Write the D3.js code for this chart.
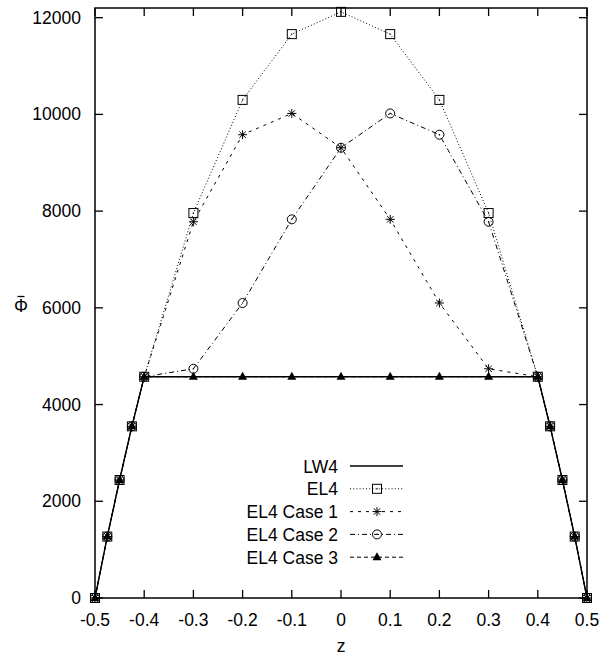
<!DOCTYPE html>
<html><head><meta charset="utf-8">
<script src="https://cdn.jsdelivr.net/npm/d3@7"></script>
<style>body{margin:0;background:#fff}svg{display:block}text{font-family:"Liberation Sans",Arial,sans-serif;fill:#000}</style>
</head><body>
<svg id="chart" width="604" height="661"></svg>
<script>
const zValues = [-0.5,-0.475,-0.45,-0.425,-0.4,-0.3,-0.2,-0.1,0,0.1,0.2,0.3,0.4,0.425,0.45,0.475,0.5];
const lw4 = [0,1270,2440,3550,4575,4575,4575,4575,4575,4575,4575,4575,4575,3550,2440,1270,0];
const el4 = [0,1270,2440,3550,4575,7960,10300,11660,12120,11660,10300,7960,4575,3550,2440,1270,0];
const el4Case1 = [0,1270,2440,3550,4575,7780,9580,10020,9310,7830,6100,4740,4575,3550,2440,1270,0];
const el4Case2 = [0,1270,2440,3550,4575,4740,6100,7830,9310,10020,9580,7780,4575,3550,2440,1270,0];
const el4Case3 = [0,1270,2440,3550,4575,4575,4575,4575,4575,4575,4575,4575,4575,3550,2440,1270,0];
const seriesNames = ["LW4","EL4","EL4 Case 1","EL4 Case 2","EL4 Case 3"];
const xTicks = [-0.5,-0.4,-0.3,-0.2,-0.1,0,0.1,0.2,0.3,0.4,0.5];
const yTicks = [0,2000,4000,6000,8000,10000,12000];

const svg = d3.select("#chart");
const L = 95, R = 587, T = 8, B = 598;
const x = d3.scaleLinear().domain([-0.5,0.5]).range([L,R]);
const y = d3.scaleLinear().domain([0,12200]).range([B,T]);
const FS = 17.5;

const series = [
  {name:seriesNames[0], vals:lw4, dash:null, width:1.4, marker:null},
  {name:seriesNames[1], vals:el4, dash:"1,2.2", width:1, marker:"square"},
  {name:seriesNames[2], vals:el4Case1, dash:"3,5", width:1, marker:"star"},
  {name:seriesNames[3], vals:el4Case2, dash:"5,3,1,3", width:1, marker:"circle"},
  {name:seriesNames[4], vals:el4Case3, dash:"4,3", width:1, marker:"triangle"}
];

function drawMarker(g, type, cx, cy) {
  if (type === "square") {
    g.append("rect").attr("x",cx-4.5).attr("y",cy-4.5).attr("width",9).attr("height",9)
      .attr("fill","none").attr("stroke","#000").attr("stroke-width",1);
    g.append("rect").attr("x",cx-0.6).attr("y",cy-0.6).attr("width",1.2).attr("height",1.2).attr("fill","#000");
  } else if (type === "star") {
    const s = 4.5, d = 3.2;
    const p = d3.path();
    p.moveTo(cx-s,cy); p.lineTo(cx+s,cy);
    p.moveTo(cx,cy-s); p.lineTo(cx,cy+s);
    p.moveTo(cx-d,cy-d); p.lineTo(cx+d,cy+d);
    p.moveTo(cx-d,cy+d); p.lineTo(cx+d,cy-d);
    g.append("path").attr("d",p.toString()).attr("stroke","#000").attr("stroke-width",1).attr("fill","none");
  } else if (type === "circle") {
    g.append("circle").attr("cx",cx).attr("cy",cy).attr("r",4.5).attr("fill","none").attr("stroke","#000").attr("stroke-width",1);
    g.append("rect").attr("x",cx-0.6).attr("y",cy-0.6).attr("width",1.2).attr("height",1.2).attr("fill","#000");
  } else if (type === "triangle") {
    g.append("path").attr("d",`M${cx},${cy-5}L${cx+4.5},${cy+3}L${cx-4.5},${cy+3}Z`).attr("fill","#000");
  }
}

// frame
svg.append("rect").attr("x",L).attr("y",T).attr("width",R-L).attr("height",B-T)
  .attr("fill","none").attr("stroke","#000").attr("stroke-width",1.5);

// ticks (inward, mirrored)
const tk = 8;
xTicks.forEach(v => {
  svg.append("line").attr("x1",x(v)).attr("x2",x(v)).attr("y1",B).attr("y2",B-tk).attr("stroke","#000").attr("stroke-width",1.3);
  svg.append("line").attr("x1",x(v)).attr("x2",x(v)).attr("y1",T).attr("y2",T+tk).attr("stroke","#000").attr("stroke-width",1.3);
  svg.append("text").attr("x",x(v)).attr("y",B+28).attr("text-anchor","middle").attr("font-size",FS).text(String(v));
});
yTicks.forEach(v => {
  svg.append("line").attr("x1",L).attr("x2",L+tk).attr("y1",y(v)).attr("y2",y(v)).attr("stroke","#000").attr("stroke-width",1.3);
  svg.append("line").attr("x1",R).attr("x2",R-tk).attr("y1",y(v)).attr("y2",y(v)).attr("stroke","#000").attr("stroke-width",1.3);
  svg.append("text").attr("x",L-14).attr("y",y(v)+6).attr("text-anchor","end").attr("font-size",FS).text(String(v));
});

// axis titles
svg.append("text").attr("x",x(0)).attr("y",652).attr("text-anchor","middle").attr("font-size",FS).text("z");
svg.append("text").attr("x",21).attr("y",312).attr("text-anchor","middle").attr("font-size",FS).text("Φ");
svg.append("line").attr("x1",17.5).attr("x2",24.5).attr("y1",296.5).attr("y2",296.5).attr("stroke","#000").attr("stroke-width",1.3);

// series
const line = d3.line().x(d => x(d[0])).y(d => y(d[1]));
series.forEach(s => {
  const pts = zValues.map((z,i) => [z, s.vals[i]]);
  svg.append("path").attr("d",line(pts)).attr("fill","none").attr("stroke","#000")
    .attr("stroke-width",s.width).attr("stroke-dasharray",s.dash);
  if (s.marker) {
    const g = svg.append("g");
    pts.forEach(p => drawMarker(g, s.marker, x(p[0]), y(p[1])));
  }
});

// legend
const legY0 = 466, legDy = 22.8;
series.forEach((s,i) => {
  const ly = legY0 + i*legDy;
  svg.append("text").attr("x",338).attr("y",ly+6.5).attr("text-anchor","end").attr("font-size",FS).text(s.name);
  svg.append("line").attr("x1",350).attr("x2",403).attr("y1",ly).attr("y2",ly).attr("stroke","#000")
    .attr("stroke-width",s.width).attr("stroke-dasharray",s.dash);
  if (s.marker) drawMarker(svg.append("g"), s.marker, 377, ly);
});
</script>
</body></html>
